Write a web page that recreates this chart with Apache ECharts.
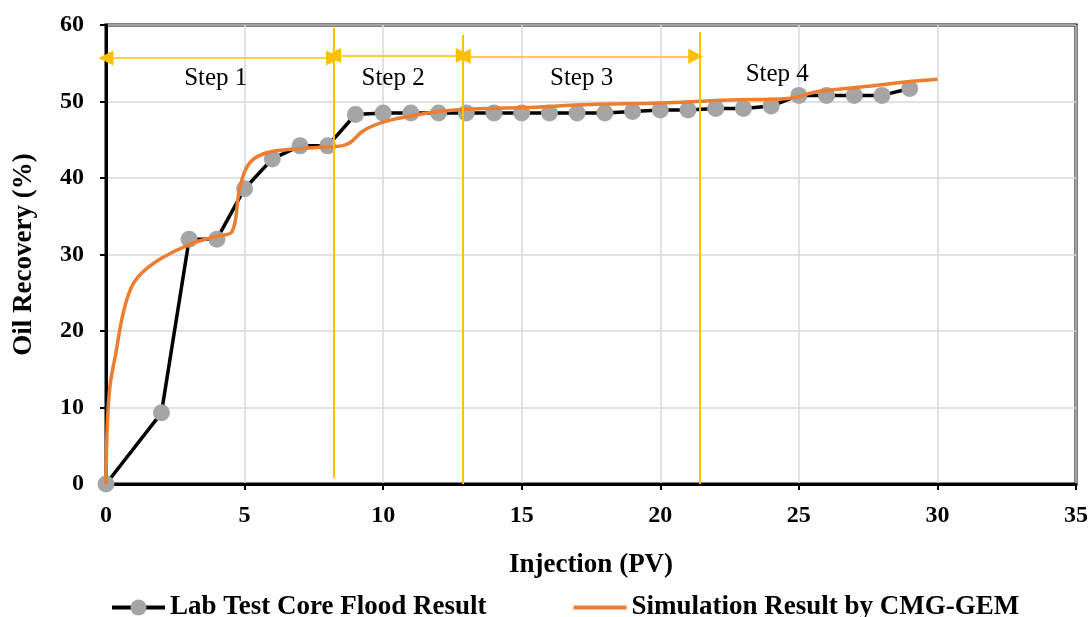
<!DOCTYPE html>
<html>
<head>
<meta charset="utf-8">
<script src="https://cdn.jsdelivr.net/npm/echarts@6/dist/echarts.min.js"></script>
<style>
html,body{margin:0;padding:0;background:#fff;}
#chart{width:1091px;height:617px;}
</style>
</head>
<body>
<div id="chart"></div>
<script>
// Lab test core flood data
const labX = [0, 2, 3, 4, 5, 6, 7, 8, 9, 10, 11, 12, 13, 14, 15, 16, 17, 18, 19, 20, 21, 22, 23, 24, 25, 26, 27, 28, 29];
const labY = [0, 9.3, 32, 32, 38.6, 42.5, 44.2, 44.2, 48.3, 48.5, 48.5, 48.5, 48.5, 48.5, 48.5, 48.5, 48.5, 48.5, 48.7, 48.9, 48.9, 49.1, 49.1, 49.4, 50.8, 50.8, 50.8, 50.8, 51.7];
// Simulation curve (CMG-GEM)
const simX = [0, 0.05, 0.15, 0.35, 0.6, 0.9, 1.3, 2.0, 3.0, 4.0, 4.55, 4.8, 5.0, 5.3, 5.8, 6.5, 7.6, 8.5, 8.8, 9.3, 10.0, 11.0, 12.0, 13.0, 15.0, 17.5, 20.0, 22.5, 24.6, 25.7, 27.5, 29.0, 30.0];
const simY = [0, 8.0, 13.0, 17.0, 22.0, 25.6, 27.6, 29.5, 31.3, 32.4, 33.0, 38.2, 40.8, 42.4, 43.3, 43.7, 44.0, 44.2, 44.6, 46.2, 47.3, 48.1, 48.7, 49.0, 49.2, 49.6, 49.8, 50.2, 50.4, 51.3, 52.0, 52.6, 52.9];
// Step boundaries (vertical lines): x, top y, bottom y
const stepLineX = [8.21, 12.89, 21.43];
const stepLineTop = [59.6, 58.7, 59.1];
const stepLineBottom = [0.8, 0, 0];
// Step arrows: start x, end x, y
const arrowStart = [0, 8.21, 12.89];
const arrowEnd = [8.21, 12.89, 21.28];
const arrowY = [55.7, 56.0, 55.9];
// Step labels
const stepNames = ['Step 1', 'Step 2', 'Step 3', 'Step 4'];
const stepLabelX = [3.96, 10.36, 17.16, 24.22];
const stepLabelY = [53.0, 53.0, 53.0, 53.6];

const FONT = "'Times New Roman', 'Liberation Serif', serif";
const labData = labX.map((x, i) => [x, labY[i]]);
const simData = simX.map((x, i) => [x, simY[i]]);
const labelData = stepNames.map((n, i) => [stepLabelX[i], stepLabelY[i], n]);

const markData = [];
stepLineX.forEach((x, i) => {
  markData.push([{coord: [x, stepLineBottom[i]], symbol: 'none'}, {coord: [x, stepLineTop[i]], symbol: 'none'}]);
});
arrowStart.forEach((x, i) => {
  markData.push([
    {coord: [x, arrowY[i]], symbol: 'triangle', symbolSize: [15, 15], lineStyle: {width: 1.5}},
    {coord: [arrowEnd[i], arrowY[i]], symbol: 'triangle', symbolSize: [15, 15]}
  ]);
});

const axisCommon = {
  type: 'value',
  axisLine: {show: true, onZero: false, lineStyle: {color: '#000', width: 3}},
  axisTick: {show: true, inside: false, length: 6, lineStyle: {color: '#000', width: 2}},
  splitLine: {show: true, lineStyle: {color: '#d9d9d9', width: 1.5}},
  axisLabel: {color: '#000', fontFamily: FONT, fontWeight: 'bold', fontSize: 24},
  nameLocation: 'middle',
  nameTextStyle: {color: '#000', fontFamily: FONT, fontWeight: 'bold', fontSize: 27}
};

const chart = echarts.init(document.getElementById('chart'));
chart.setOption({
  animation: false,
  backgroundColor: '#fff',
  grid: {show: true, left: 106, right: 13, top: 25, bottom: 133, borderColor: '#000', borderWidth: 3, containLabel: false},
  xAxis: Object.assign({}, axisCommon, {
    min: 0, max: 35, interval: 5,
    name: 'Injection (PV)', nameGap: 68,
    axisLabel: Object.assign({}, axisCommon.axisLabel, {margin: 20})
  }),
  yAxis: Object.assign({}, axisCommon, {
    min: 0, max: 60, interval: 10,
    name: 'Oil Recovery (%)', nameGap: 68,
    axisLabel: Object.assign({}, axisCommon.axisLabel, {margin: 22})
  }),
  legend: {
    left: 105, top: 589,
    itemWidth: 53, itemHeight: 20, itemGap: 85,
    lineStyle: {width: 4},
    textStyle: {color: '#000', fontFamily: FONT, fontWeight: 'bold', fontSize: 27},
    data: [
      {name: 'Lab Test Core Flood Result'},
      {name: 'Simulation Result by CMG-GEM', itemStyle: {color: 'rgba(0,0,0,0)', opacity: 0}}
    ]
  },
  series: [
    {
      name: 'Lab Test Core Flood Result',
      type: 'line',
      data: labData,
      symbol: 'circle',
      symbolSize: 17,
      itemStyle: {color: '#a5a5a5', borderWidth: 0},
      lineStyle: {color: '#000', width: 3.5},
      z: 3
    },
    {
      name: 'Simulation Result by CMG-GEM',
      type: 'line',
      data: simData,
      showSymbol: false,
      symbol: 'none',
      smooth: 0.35,
      itemStyle: {color: '#ed7d31'},
      lineStyle: {color: '#ed7d31', width: 3.5},
      z: 4
    },
    {
      name: 'steps',
      type: 'line',
      data: [],
      silent: true,
      z: 5,
      markLine: {
        silent: true,
        animation: false,
        label: {show: false},
        emphasis: {disabled: true},
        lineStyle: {color: '#ffc000', width: 2, type: 'solid'},
        data: markData
      }
    },
    {
      name: 'stepLabels',
      type: 'scatter',
      data: labelData,
      symbolSize: 1,
      itemStyle: {color: 'rgba(0,0,0,0)', opacity: 1},
      silent: true,
      label: {
        show: true, position: 'inside',
        formatter: p => p.data[2],
        color: '#000', opacity: 1, textBorderWidth: 0,
        fontFamily: FONT, fontSize: 25
      },
      z: 6
    }
  ]
});
</script>
</body>
</html>
